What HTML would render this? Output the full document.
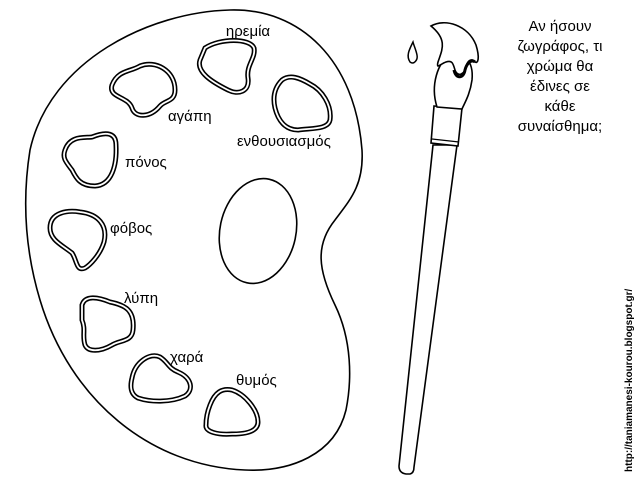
<!DOCTYPE html>
<html><head><meta charset="utf-8"><style>
html,body{margin:0;padding:0;background:#fff;}
svg{display:block}
text{font-family:"Liberation Sans","DejaVu Sans",sans-serif;fill:#000}
.b1{fill:none;stroke:#000;stroke-width:5}
.b2{fill:none;stroke:#fff;stroke-width:1.8}
</style></head><body>
<svg width="640" height="480" viewBox="0 0 640 480" xmlns="http://www.w3.org/2000/svg">
<defs>
<g id="blobs">
<path d="M205,48 C220,38 250,38 254,48 C256,58 246,65 248,78 C250,92 238,95 228,90 C212,82 196,72 200,60 Z"/>
<path d="M112,85 C118,70 130,72 140,66 C155,60 175,70 175,90 C175,102 165,100 160,106 C150,118 135,118 132,108 C128,96 108,98 112,85 Z"/>
<path d="M282,80 C290,74 300,78 310,84 C322,90 332,105 330,120 C328,130 310,128 298,130 C285,130 278,120 275,108 C272,95 276,86 282,80 Z"/>
<path d="M65,150 C70,135 85,138 92,137 C102,133 116,130 116,145 C117,165 112,185 95,186 C80,186 76,178 72,170 C66,162 62,158 65,150 Z"/>
<path d="M50,228 C50,212 68,210 80,212 C98,214 108,225 104,242 C100,255 90,265 85,268 C76,272 77,260 72,253 C62,245 50,240 50,228 Z"/>
<path d="M82,305 C85,295 98,297 110,302 C125,305 135,310 133,330 C132,342 120,340 112,345 C100,352 88,352 85,345 C82,335 86,330 82,320 Z"/>
<path d="M132,378 C135,362 150,352 160,357 C168,362 168,368 178,372 C192,378 194,390 185,396 C170,403 150,402 138,398 C130,394 130,386 132,378 Z"/>
<path d="M210,405 C215,392 222,388 232,390 C245,394 258,410 258,422 C258,432 245,434 232,434 C218,435 205,432 206,425 C206,417 208,410 210,405 Z"/>
</g>
</defs>
<rect width="640" height="480" fill="#fff"/>
<!-- palette -->
<path d="M230,10 C300,8 355,60 362,150 C364,185 350,200 335,220 C315,245 318,270 335,305 C352,340 352,380 346,410 C335,455 290,472 245,470 C150,466 70,400 40,300 C25,250 22,200 30,150 C50,60 150,12 230,10 Z" fill="#fff" stroke="#000" stroke-width="1.6"/>
<ellipse cx="258" cy="231" rx="38" ry="53" transform="rotate(12 258 231)" fill="none" stroke="#000" stroke-width="1.6"/>
<use href="#blobs" class="b1"/>
<use href="#blobs" class="b2"/>
<g font-size="15">
<text x="248" y="36" text-anchor="middle">ηρεμία</text>
<text x="168" y="121">αγάπη</text>
<text x="237" y="146">ενθουσιασμός</text>
<text x="125" y="167">πόνος</text>
<text x="110" y="233">φόβος</text>
<text x="124" y="303">λύπη</text>
<text x="170" y="362">χαρά</text>
<text x="236" y="385">θυμός</text>
</g>
<!-- brush -->
<path d="M433,145 L399,466 Q399,473 406,474 L410,474 Q414,473 414,467 L457,145 Z" fill="#fff" stroke="#000" stroke-width="1.6"/>
<path d="M434,106 L462,108 L458,146 L431,143 Z" fill="#fff" stroke="#000" stroke-width="1.6"/>
<line x1="432" y1="139" x2="459" y2="142" stroke="#000" stroke-width="1.3"/>
<path d="M437,107 C430,85 438,62 450,55 C462,50 474,60 472,80 C470,95 464,104 462,109 Z" fill="#fff" stroke="#000" stroke-width="1.6"/>
<path d="M431,26 C445,18 468,25 476,45 C480,58 478,64 475,62 C472,58 468,60 466,66 C465,74 458,78 455,70 C453,63 452,60 446,62 C440,64 436,70 438,62 C442,50 448,40 431,26 Z" fill="#fff" stroke="#000" stroke-width="1.6"/>
<path d="M475,62 C470,58 466,66 465,70 C464,78 456,80 454,70" fill="none" stroke="#000" stroke-width="3"/>
<path d="M413,42 C409,50 406,56 410,62 C414,65 418,60 417,55 C416,50 414,46 413,42 Z" fill="#fff" stroke="#000" stroke-width="1.5"/>
<g font-size="15" text-anchor="middle">
<text x="560" y="31">Αν ήσουν</text>
<text x="560" y="51">ζωγράφος, τι</text>
<text x="560" y="71">χρώμα θα</text>
<text x="560" y="91">έδινες σε</text>
<text x="560" y="111">κάθε</text>
<text x="560" y="131">συναίσθημα;</text>
</g>
<text x="0" y="0" font-size="10" font-weight="bold" transform="translate(632,472) rotate(-90)">http://taniamanesi-kourou.blogspot.gr/</text>
</svg>
</body></html>
